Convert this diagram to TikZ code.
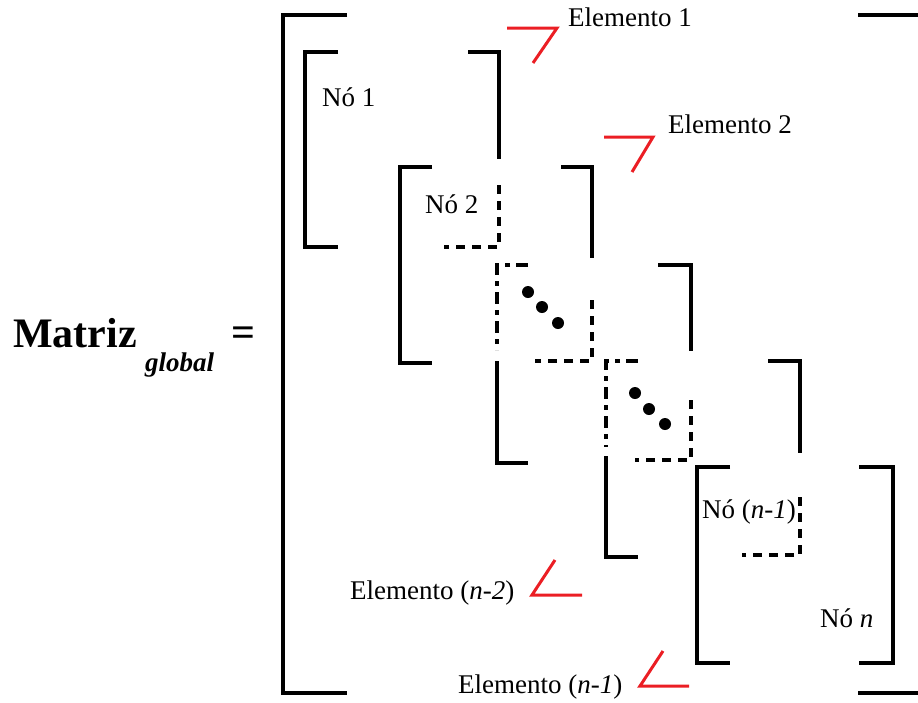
\documentclass[tikz,border=0pt]{standalone}
\usepackage{fontspec}
\setmainfont{Liberation Serif}
\usetikzlibrary{positioning}
\definecolor{markred}{RGB}{235,30,36}
\tikzset{
  bracket/.style={line width=4pt},
  shared/.style={bracket, dash pattern=on 9pt off 7pt},
  shareddot/.style={bracket, dash pattern=on 12pt off 6pt on 5pt off 6pt},
  elmark/.style={markred, line width=3pt},
  lbl/.style={anchor=base west, inner sep=0pt, font=\fontsize{27}{32}\selectfont},
}

\begin{document}
\begin{tikzpicture}[x=1pt, y=-1pt]
    \useasboundingbox (0,0) rectangle (918,702);
    % left hand side
    \node[anchor=base west, inner sep=0pt, font=\fontsize{42}{50}\selectfont\bfseries] (mat) at (13,347) {Matriz};
    \node[anchor=base west, inner sep=0pt, font=\fontsize{27}{32}\selectfont\bfseries\itshape] (glob) at (145,371) {global};
    \node[inner sep=0pt, font=\fontsize{42}{50}\selectfont\bfseries] (eq) at (243,337) {=};
    % global bracket
    \draw[bracket] (347,15) -- (283,15) -- (283,693) -- (347,693);
    \draw[bracket] (858,15) -- (926,15) -- (926,693) -- (858,693);
    % element 1
    \draw[bracket] (338,52) -- (305,52) -- (305,247) -- (338,247);
    \draw[bracket] (468,52) -- (499,52) -- (499,159);
    \draw[shared] (499,185) -- (499,247) -- (444,247);
    % element 2
    \draw[bracket] (432,167) -- (400,167) -- (400,363) -- (432,363);
    \draw[bracket] (561,167) -- (592,167) -- (592,258);
    \draw[shared] (592,300) -- (592,361) -- (535,361);
    % element 3
    \draw[shareddot] (528,265) -- (497,265) -- (497,350);
    \draw[bracket] (497,361) -- (497,463) -- (528,463);
    \draw[bracket] (658,265) -- (691,265) -- (691,351);
    \draw[shared] (691,400) -- (691,460) -- (635,460);
    % element 4
    \draw[shareddot] (638,361) -- (606,361) -- (606,447);
    \draw[bracket] (606,456) -- (606,557) -- (638,557);
    \draw[bracket] (768,361) -- (800,361) -- (800,453);
    \draw[shared] (800,497) -- (800,555) -- (742,555);
    % element n
    \draw[bracket] (730,467) -- (697,467) -- (697,663) -- (730,663);
    \draw[bracket] (859,467) -- (893,467) -- (893,663) -- (859,663);
    % dots
    \foreach \px/\py in {528/292, 542/307, 558/323, 635/393, 649/409, 665/424}
      \fill (\px,\py) circle (6pt);
    % red marks
    \draw[elmark] (507,28) -- (557,28) -- (533,63);
    \draw[elmark] (604,137) -- (653,137) -- (632,172);
    \draw[elmark] (555,560) -- (532,595) -- (582,595);
    \draw[elmark] (663,651) -- (640,686) -- (689,686);
    % labels
    \node[lbl] (el1) at (568,26) {Elemento 1};
    \node[lbl] (el2) at (668,133) {Elemento 2};
    \node[lbl] (no1) at (322,106) {Nó 1};
    \node[lbl] (no2) at (425,213) {Nó 2};
    \node[lbl] (nonm) at (702,518) {Nó (\textit{n-1})};
    \node[lbl] (non) at (820,627) {Nó \textit{n}};
    \node[lbl] (elnmm) at (350,599) {Elemento (\textit{n-2})};
    \node[lbl] (elnm) at (458,693) {Elemento (\textit{n-1})};
\end{tikzpicture}
\end{document}
